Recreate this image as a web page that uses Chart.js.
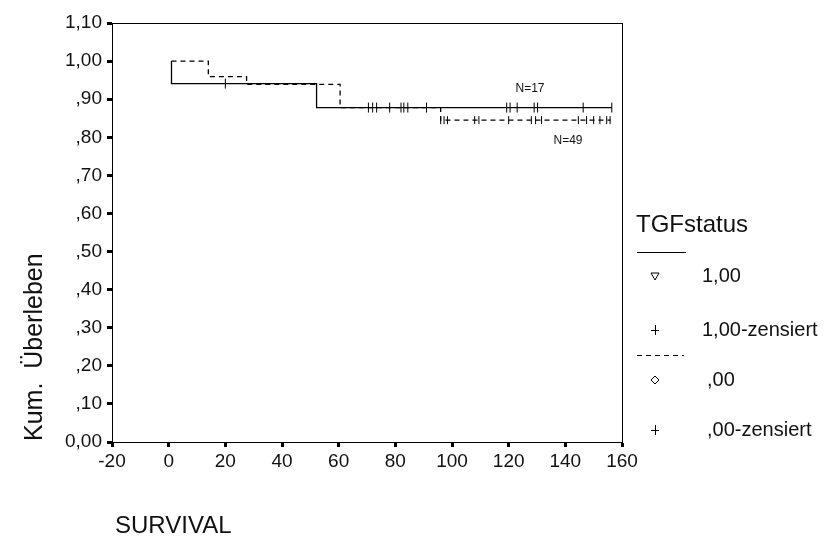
<!DOCTYPE html>
<html>
<head>
<meta charset="utf-8">
<script src="https://cdn.jsdelivr.net/npm/chart.js@4.4.1/dist/chart.umd.min.js"></script>
<style>
  body { margin: 0; background: #fff; }
  #wrap { width: 827px; height: 538px; position: relative; }
</style>
</head>
<body>
<div id="wrap"><canvas id="survival-chart" width="827" height="538"></canvas></div>
<script>
// Kaplan-Meier steps, TGFstatus = 1,00 (N=17)
const tgf1Times = [1, 1, 52.2, 156.4];
const tgf1Surv = [1.0, 0.941, 0.878, 0.878];
// censored times for group 1,00
const tgf1Censored = [20, 70.5, 72, 73.4, 78, 82, 83, 84.4, 91, 119.3, 120.5, 123, 129, 130.2, 146.3, 156.4];

// Kaplan-Meier steps, TGFstatus = ,00 (N=49)
const tgf0Times = [1, 14, 27.5, 60.5, 96, 156];
const tgf0Surv = [1.0, 0.959, 0.939, 0.878, 0.845, 0.845];
// censored times for group ,00
const tgf0Censored = [96, 97.2, 98.4, 108, 109.5, 120, 128, 129.5, 131.6, 144.6, 147.5, 150, 152.2, 154.6, 155.8];

const xTickMin = -20, xTickMax = 160, xTickStep = 20;
const yTickMin = 0, yTickMax = 1.1, yTickStep = 0.1;

const groupNotes = ["N=17", "N=49"];
const legendTitle = "TGFstatus";
const legendLabels = ["1,00", "1,00-zensiert", ",00", ",00-zensiert"];

const FONT = "'Liberation Sans', Arial, sans-serif";

// survival value of a step curve at time t
function survAt(times, surv, t) {
    let s = surv[0];
    for (let i = 0; i < times.length; i++) {
        if (times[i] <= t) s = surv[i];
    }
    return s;
}

function toPoints(xs, ys) {
    return xs.map((x, i) => ({ x: x, y: ys[i] }));
}

function censorPoints(times, surv, cens) {
    return cens.map(t => ({ x: t, y: survAt(times, surv, t) }));
}

// german style tick labels: 1,00 ,90 ... 0,00
function formatSurv(v) {
    let s = v.toFixed(2).replace(".", ",");
    if (s.startsWith("0,") && Math.abs(v) > 1e-9) s = s.substring(1);
    return s;
}

// frame around plot, group notes, axis titles and legend
const decorPlugin = {
    id: "decor",
    afterDraw(chart) {
        const ctx = chart.ctx;
        const a = chart.chartArea;
        ctx.save();
        ctx.strokeStyle = "#000";
        ctx.lineWidth = 1;
        ctx.strokeRect(Math.round(a.left) + 0.5, Math.round(a.top) + 0.5,
            Math.round(a.right - a.left), Math.round(a.bottom - a.top));

        // N labels
        ctx.fillStyle = "#111";
        ctx.font = "12px " + FONT;
        ctx.textAlign = "center";
        ctx.textBaseline = "middle";
        ctx.fillText(groupNotes[0], 530, 89);
        ctx.fillText(groupNotes[1], 568, 141);

        // x title
        ctx.font = "24px " + FONT;
        ctx.textAlign = "left";
        ctx.textBaseline = "alphabetic";
        ctx.fillText("SURVIVAL", 115, 533);

        // y title
        ctx.save();
        ctx.translate(42, 441);
        ctx.rotate(-Math.PI / 2);
        ctx.font = "25px " + FONT;
        ctx.textAlign = "left";
        ctx.fillText("Kum.  Überleben", 0, 0);
        ctx.restore();

        // legend
        ctx.font = "24px " + FONT;
        ctx.fillText(legendTitle, 636, 232);
        ctx.beginPath();
        ctx.moveTo(637, 252.5);
        ctx.lineTo(686, 252.5);
        ctx.stroke();
        ctx.setLineDash([5, 4]);
        ctx.beginPath();
        ctx.moveTo(637, 355.5);
        ctx.lineTo(684, 355.5);
        ctx.stroke();
        ctx.setLineDash([]);

        const rowY = [276, 330, 380, 430];
        const textX = [702, 702, 707, 707];
        ctx.font = "20px " + FONT;
        ctx.textBaseline = "middle";
        legendLabels.forEach((lab, i) => ctx.fillText(lab, textX[i], rowY[i]));

        // legend symbols
        const sx = 655;
        ctx.lineWidth = 1;
        // triangle down
        ctx.beginPath();
        ctx.moveTo(sx - 4, rowY[0] - 3);
        ctx.lineTo(sx + 4, rowY[0] - 3);
        ctx.lineTo(sx, rowY[0] + 4);
        ctx.closePath();
        ctx.stroke();
        // plus marks
        [rowY[1], rowY[3]].forEach(y => {
            ctx.beginPath();
            ctx.moveTo(sx - 4, y + 0.5);
            ctx.lineTo(sx + 4, y + 0.5);
            ctx.moveTo(sx + 0.5, y - 5);
            ctx.lineTo(sx + 0.5, y + 5);
            ctx.stroke();
        });
        // diamond
        ctx.beginPath();
        ctx.moveTo(sx, rowY[2] - 4);
        ctx.lineTo(sx + 4, rowY[2]);
        ctx.lineTo(sx, rowY[2] + 4);
        ctx.lineTo(sx - 4, rowY[2]);
        ctx.closePath();
        ctx.stroke();
        ctx.restore();
    }
};

const ctx = document.getElementById("survival-chart");

const survivalChart = new Chart(ctx, {
    type: "line",
    data: {
        datasets: [
            {
                label: "1,00",
                data: toPoints(tgf1Times, tgf1Surv),
                stepped: "before",
                borderColor: "#000",
                borderWidth: 1.3,
                pointRadius: 0,
                fill: false
            },
            {
                label: ",00",
                data: toPoints(tgf0Times, tgf0Surv),
                stepped: "before",
                borderColor: "#000",
                borderWidth: 1.3,
                borderDash: [5, 4],
                pointRadius: 0,
                fill: false
            },
            {
                type: "scatter",
                label: "1,00-zensiert",
                data: censorPoints(tgf1Times, tgf1Surv, tgf1Censored),
                showLine: false,
                pointStyle: "line",
                rotation: 90,
                pointRadius: 5,
                pointBorderWidth: 1,
                borderColor: "#000"
            },
            {
                type: "scatter",
                label: ",00-zensiert",
                data: censorPoints(tgf0Times, tgf0Surv, tgf0Censored),
                showLine: false,
                pointStyle: "line",
                rotation: 90,
                pointRadius: 4,
                pointBorderWidth: 1,
                borderColor: "#000"
            }
        ]
    },
    options: {
        responsive: false,
        animation: false,
        layout: { padding: { left: 0, top: 23, right: 205, bottom: 0 } },
        plugins: {
            legend: { display: false },
            tooltip: { enabled: false }
        },
        scales: {
            x: {
                type: "linear",
                min: xTickMin,
                max: xTickMax,
                afterFit: scale => { scale.height = 96; },
                ticks: {
                    stepSize: xTickStep,
                    color: "#111",
                    padding: 3,
                    font: { family: FONT, size: 19 }
                },
                grid: {
                    drawOnChartArea: false,
                    drawTicks: true,
                    tickLength: 5,
                    tickWidth: 3,
                    tickColor: "#000"
                },
                border: { display: true, color: "#000", width: 1 }
            },
            y: {
                min: yTickMin,
                max: yTickMax,
                afterFit: scale => { scale.width = 112; },
                ticks: {
                    stepSize: yTickStep,
                    color: "#111",
                    padding: 5,
                    font: { family: FONT, size: 19 },
                    callback: v => formatSurv(v)
                },
                grid: {
                    drawOnChartArea: false,
                    drawTicks: true,
                    tickLength: 5,
                    tickWidth: 3,
                    tickColor: "#000"
                },
                border: { display: true, color: "#000", width: 1 }
            }
        }
    },
    plugins: [decorPlugin]
});
</script>
</body>
</html>
